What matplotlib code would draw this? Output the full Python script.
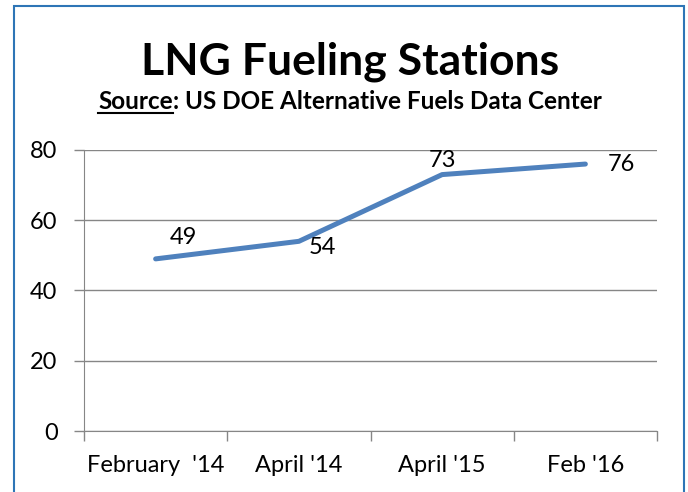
import matplotlib.pyplot as plt
from matplotlib.patches import Rectangle
from matplotlib.lines import Line2D

plt.rcParams['font.family'] = ['Lato', 'DejaVu Sans']

categories = ["February  '14", "April '14", "April '15", "Feb '16"]
stations = [49, 54, 73, 76]
# label offsets (pixels) like the excel data labels
label_offsets = [(28, 21), (23, -6), (0, 14), (36, 0)]

fig = plt.figure(figsize=(6.88, 4.92), dpi=100)
ax = fig.add_axes([84/688, 1 - 431/492, (657 - 84)/688, (431 - 150)/492])

x = range(len(categories))
ax.plot(x, stations, color='#4F81BD', lw=3.6, solid_capstyle='round')
for xi, v, off in zip(x, stations, label_offsets):
    ax.annotate(str(v), (xi, v), xytext=off, textcoords='offset pixels',
                ha='center', va='center', fontsize=17)

ax.set_xlim(-0.5, 3.5)
ax.set_ylim(0, 80)
ax.set_yticks([0, 20, 40, 60, 80])
ax.set_xticks(list(x))
ax.set_xticklabels(categories)
ax.set_xticks([-0.5, 0.5, 1.5, 2.5, 3.5], minor=True)
ax.tick_params(axis='x', which='major', length=0, pad=17, labelsize=17)
ax.tick_params(axis='x', which='minor', length=7, width=1, color='#868686', direction='out')
ax.tick_params(axis='y', length=7, width=1, color='#868686', pad=12, labelsize=17)
ax.grid(axis='y', color='#868686', lw=1)
ax.set_axisbelow(True)
for s in ['top', 'right']:
    ax.spines[s].set_visible(False)
for s in ['left', 'bottom']:
    ax.spines[s].set_color('#868686')

fig.patches.append(Rectangle((14/688, -0.05), 670/688, 1.05 - 6/492,
                             transform=fig.transFigure, fill=False,
                             edgecolor='#2E75B6', lw=1.5))

fig.text(0.509, 1 - 75/492, 'LNG Fueling Stations', ha='center', va='baseline',
         fontsize=32, fontweight='bold')

# subtitle with underlined "Source"
t1 = fig.text(0, 1 - 109/492, 'Source', ha='left', va='baseline', fontsize=17.5, fontweight='bold')
t2 = fig.text(0, 1 - 109/492, ': US DOE Alternative Fuels Data Center', ha='left', va='baseline',
              fontsize=17.5, fontweight='bold')
fig.canvas.draw()
r = fig.canvas.get_renderer()
b1 = t1.get_window_extent(r)
b2 = t2.get_window_extent(r)
w = b1.width + b2.width
x0 = 0.509 * fig.bbox.width - w / 2
t1.set_x(x0 / fig.bbox.width)
t2.set_x((x0 + b1.width) / fig.bbox.width)
yl = 1 - 113/492
fig.lines.append(Line2D([x0 / fig.bbox.width, (x0 + b1.width) / fig.bbox.width], [yl, yl],
                        transform=fig.transFigure, color='black', lw=1.5))

fig.savefig('out.png', dpi=100)
